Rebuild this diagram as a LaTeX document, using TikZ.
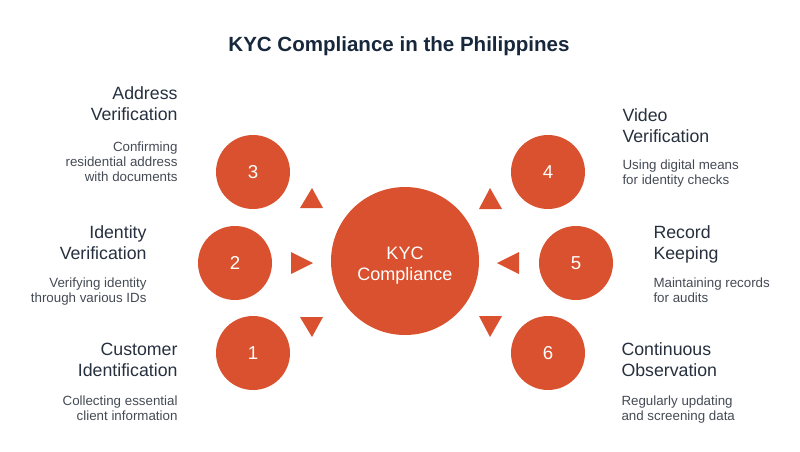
\documentclass[tikz,border=0pt]{standalone}
\usepackage{fontspec}
\setmainfont{Liberation Sans}
\definecolor{kycorange}{RGB}{217,81,46}
\definecolor{kycnavy}{RGB}{24,40,60}
\definecolor{kyctext}{RGB}{38,48,62}
\definecolor{kycgray}{RGB}{68,74,84}
\tikzset{every picture/.style={line width=0.75pt}}
\tikzset{
  hub/.style={circle, fill=kycorange, minimum size=111pt, inner sep=0pt},
  hubtext/.style={inner sep=0pt, text=white, align=center, font=\fontsize{13.5}{15.75}\selectfont},
  stepdot/.style={circle, fill=kycorange, minimum size=55.5pt, inner sep=0pt, text=white, font=\fontsize{14}{16}\selectfont},
  headlbl/.style={inner sep=0pt, text=kyctext, font=\fontsize{13.3}{15.75}\selectfont},
  desclbl/.style={inner sep=0pt, text=kycgray, font=\fontsize{10}{11.25}\selectfont},
  pointer/.style={fill=kycorange},
}
\begin{document}
\begin{tikzpicture}[x=0.75pt,y=0.75pt,yscale=-1,xscale=1]
\useasboundingbox (0,0) rectangle (800,451);

% Text Node
\draw (399,51) node [anchor=base][inner sep=0pt] [text=kycnavy, font=\fontsize{15.4}{18}\selectfont\bfseries] (title) {KYC Compliance in the Philippines};

%Shape: Circle
\draw (405,261) node [hub] (kyc) {};
\draw (405,280) node [anchor=base][hubtext] (kyclbl) {KYC\\Compliance};

%Shape: Circle
\draw (253,353) node [stepdot] (s1) {1};
\draw (235,263) node [stepdot] (s2) {2};
\draw (253,172) node [stepdot] (s3) {3};
\draw (548,172) node [stepdot] (s4) {4};
\draw (576,263) node [stepdot] (s5) {5};
\draw (548,353) node [stepdot] (s6) {6};

%Shape: Triangle
\fill [pointer] (312,188) -- (323,208) -- (300,208) -- cycle ;
\fill [pointer] (313,263) -- (291,252) -- (291,274) -- cycle ;
\fill [pointer] (312,337) -- (300,317) -- (323,317) -- cycle ;
\fill [pointer] (490,188) -- (502,209) -- (479,209) -- cycle ;
\fill [pointer] (497,263) -- (519,252) -- (519,274) -- cycle ;
\fill [pointer] (490,337) -- (479,316) -- (502,316) -- cycle ;

% Text Node
\draw (178,120) node [anchor=base east][headlbl][align=right] (h3) {Address\\Verification};
\draw (178,181) node [anchor=base east][desclbl][align=right] (d3) {Confirming\\residential address\\with documents};
\draw (147,259) node [anchor=base east][headlbl][align=right] (h2) {Identity\\Verification};
\draw (147,302) node [anchor=base east][desclbl][align=right] (d2) {Verifying identity\\through various IDs};
\draw (178,376) node [anchor=base east][headlbl][align=right] (h1) {Customer\\Identification};
\draw (178,420) node [anchor=base east][desclbl][align=right] (d1) {Collecting essential\\client information};

% Text Node
\draw (622,142) node [anchor=base west][headlbl][align=left] (h4) {Video\\Verification};
\draw (622,184) node [anchor=base west][desclbl][align=left] (d4) {Using digital means\\for identity checks};
\draw (653,259) node [anchor=base west][headlbl][align=left] (h5) {Record\\Keeping};
\draw (653,302) node [anchor=base west][desclbl][align=left] (d5) {Maintaining records\\for audits};
\draw (621,376) node [anchor=base west][headlbl][align=left] (h6) {Continuous\\Observation};
\draw (621,420) node [anchor=base west][desclbl][align=left] (d6) {Regularly updating\\and screening data};

\end{tikzpicture}
\end{document}
